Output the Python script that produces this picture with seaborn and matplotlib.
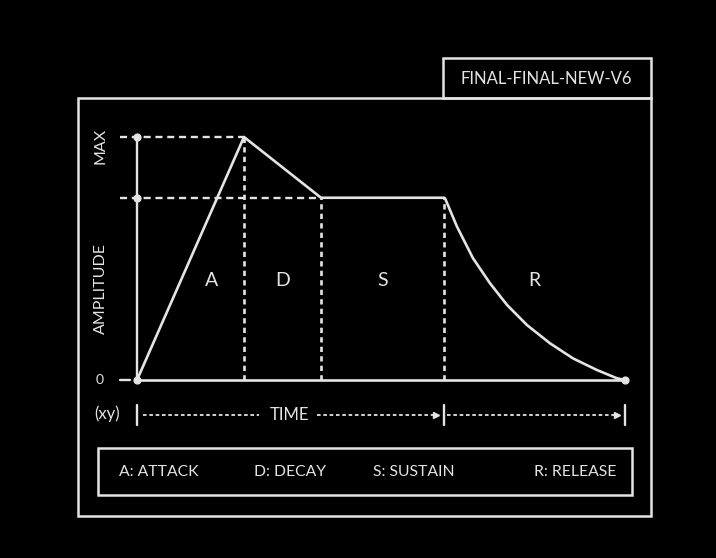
import pandas as pd
import matplotlib.pyplot as plt
import matplotlib.patches as patches
import seaborn as sns

# ADSR envelope (time in arbitrary units, amplitude 0..1)
env_time = [0, 1.07, 1.84, 3.07, 3.08, 3.20, 3.36, 3.53, 3.70, 3.90, 4.13, 4.36, 4.60, 4.80, 4.88]
env_amp = [0, 1.0, 0.75, 0.75, 0.748, 0.631, 0.501, 0.398, 0.309, 0.226, 0.151, 0.089, 0.041, 0.007, 0]

attack_end = 1.07
decay_end = 1.84
sustain_end = 3.07
release_end = 4.88
sustain_level = 0.75
max_level = 1.0

stage_letters = ["A", "D", "S", "R"]
stage_x = [0.75, 1.455, 2.455, 3.975]
legend_items = ["A: ATTACK", "D: DECAY", "S: SUSTAIN", "R: RELEASE"]
legend_x = [159, 290, 414, 575]
title_tag = "FINAL-FINAL-NEW-V6"

FG = "#e4e4e4"

sns.set_theme(style="dark", rc={"axes.facecolor": "black", "figure.facecolor": "black",
                                "axes.grid": False})
plt.rcParams["font.family"] = ["Lato", "DejaVu Sans"]

fig = plt.figure(figsize=(7.16, 5.58), dpi=100)

# layout layer in pixel coords
bg = fig.add_axes([0, 0, 1, 1])
bg.set_xlim(0, 716)
bg.set_ylim(558, 0)
bg.axis("off")
bg.add_patch(patches.Rectangle((78, 98), 573, 418, fill=False, ec=FG, lw=1.8))
bg.add_patch(patches.Rectangle((443, 58), 208, 40, fill=False, ec=FG, lw=1.8))
bg.text(546, 79, title_tag, color=FG, fontsize=12, ha="center", va="center")
bg.add_patch(patches.Rectangle((98, 448), 534, 47, fill=False, ec=FG, lw=1.8))
for lx, item in zip(legend_x, legend_items):
    bg.text(lx, 472, item, color=FG, fontsize=11.3, ha="center", va="center")
bg.text(101, 146, "MAX", color=FG, fontsize=11.5, rotation=90, ha="center", va="center")
bg.text(101, 289, "AMPLITUDE", color=FG, fontsize=11.5, rotation=90, ha="center", va="center")
bg.text(100, 380, "0", color=FG, fontsize=10, ha="center", va="center")
bg.text(107, 414, "(xy)", color=FG, fontsize=12, ha="center", va="center")

# data axes
ax = fig.add_axes([137 / 716, (558 - 380) / 558, 488 / 716, 243 / 558])
ax.set_xlim(0, release_end)
ax.set_ylim(0, 1)
ax.axis("off")

df = pd.DataFrame({"time": env_time, "amplitude": env_amp})
sns.lineplot(data=df, x="time", y="amplitude", ax=ax, color=FG, linewidth=1.9,
             sort=False, estimator=None)
for l in ax.lines:
    l.set_clip_on(False)

left_guide = -0.17
kw = dict(color=FG, clip_on=False)
# horizontal guides
ax.plot([left_guide, attack_end], [max_level, max_level], lw=1.7, dashes=(3, 2), **kw)
ax.plot([left_guide, decay_end], [sustain_level, sustain_level], lw=1.7, dashes=(3, 2), **kw)
ax.plot([left_guide, -0.07], [0, 0], lw=1.7, **kw)
# axes
ax.plot([0, 0], [0, max_level], lw=1.7, **kw)
ax.plot([0, release_end], [0, 0], lw=1.9, **kw)
# vertical stage guides
ax.plot([attack_end, attack_end], [0, max_level], lw=1.9, dashes=(2, 1.6), **kw)
ax.plot([decay_end, decay_end], [0, sustain_level], lw=1.9, dashes=(2, 1.6), **kw)
ax.plot([sustain_end, sustain_end], [0, sustain_level], lw=1.9, dashes=(2, 1.6), **kw)
# dots
ax.scatter([0, 0, 0, release_end], [max_level, sustain_level, 0, 0], s=24, color=FG,
           zorder=5, clip_on=False)

for sx, letter in zip(stage_x, stage_letters):
    ax.text(sx, 0.41, letter, color=FG, fontsize=14, ha="center", va="center")

# time row
ty = -0.144
for bx in [0, sustain_end, release_end]:
    ax.plot([bx, bx], [-0.103, -0.185], lw=1.7, **kw)
ax.plot([0.06, 1.22], [ty, ty], lw=1.3, dashes=(2, 1.5), **kw)
ax.text(1.53, ty, "TIME", color=FG, fontsize=12, ha="center", va="center")
ax.plot([1.80, 2.98], [ty, ty], lw=1.3, dashes=(2, 1.5), **kw)
ax.plot([3.10, release_end - 0.09], [ty, ty], lw=1.3, dashes=(2, 1.5), **kw)
ax.plot([2.99, release_end - 0.08], [ty, ty], ls="none", marker=">", ms=5, **kw)

fig.savefig("out.png", dpi=100, facecolor="black")
